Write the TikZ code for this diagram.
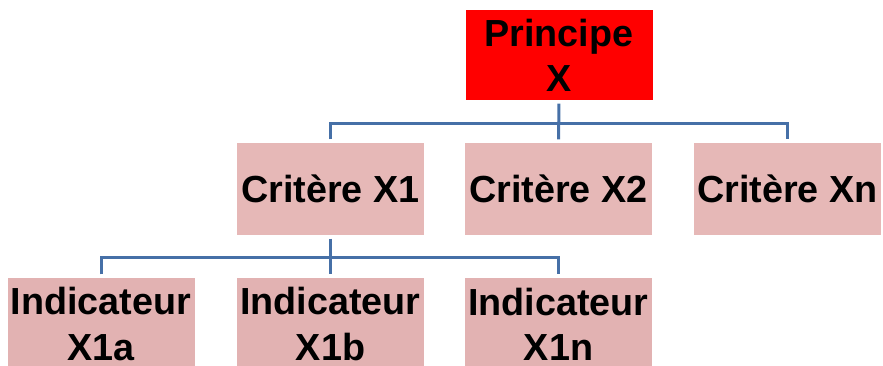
\documentclass[tikz,border=0pt]{standalone}
\usepackage{fontspec}
\setmainfont{Liberation Sans}
\tikzset{
  cadre/.style={inner sep=0pt, minimum width=140.25pt, minimum height=69pt, align=center,
    font=\bfseries\fontsize{28.3}{34}\selectfont},
  lien/.style={draw={rgb, 255:red, 70; green, 112; blue, 167}, line width=2.25pt,
    shorten <=2.5pt, shorten >=2.5pt}
}
\begin{document}
\begin{tikzpicture}[x=0.75pt,y=0.75pt,yscale=-1,xscale=1]
\useasboundingbox (0,0) rectangle (883,365);
% principe
\node (pX) at (559,55) [cadre, minimum height=67.5pt, fill={rgb, 255:red, 255; green, 0; blue, 0}] {Principe\\X};
% criteres
\node (cX1) at (330.5,189) [cadre, fill={rgb, 255:red, 230; green, 184; blue, 183}] {Crit\`ere X1};
\node (cX2) at (558.5,189) [cadre, fill={rgb, 255:red, 230; green, 184; blue, 183}] {Crit\`ere X2};
\node (cXn) at (787.5,189) [cadre, fill={rgb, 255:red, 230; green, 184; blue, 183}] {Crit\`ere Xn};
% indicateurs
\node (iX1a) at (101,324) [cadre, fill={rgb, 255:red, 226; green, 178; blue, 178}] {Indicateur\\X1a};
\node (iX1b) at (330.5,324) [cadre, fill={rgb, 255:red, 226; green, 178; blue, 178}] {Indicateur\\X1b};
\node (iX1n) at (558.5,324) [cadre, fill={rgb, 255:red, 226; green, 178; blue, 178}] {Indicateur\\X1n};
\coordinate (bus1) at (559,123);
\coordinate (bus2) at (330.5,257);
\draw [lien] (cX1.north) |- (bus1) -| (cXn.north) ;
\draw [lien] (pX.south) -- (cX2.north) ;
\draw [lien] (iX1a.north) |- (bus2) -| (iX1n.north) ;
\draw [lien] (cX1.south) -- (iX1b.north) ;
\end{tikzpicture}
\end{document}
